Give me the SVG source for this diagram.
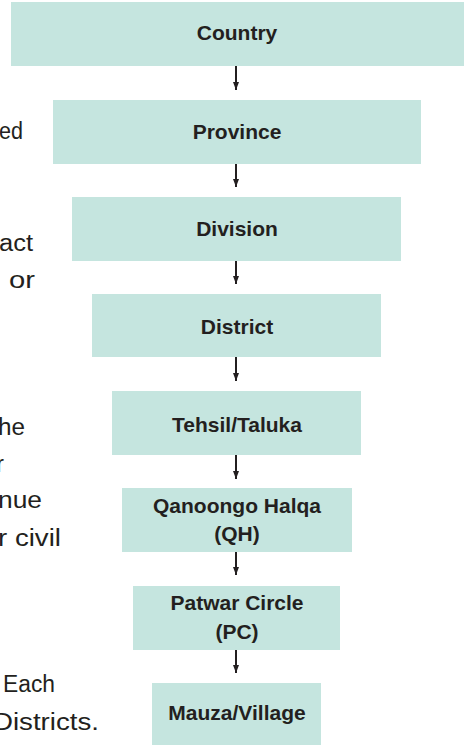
<svg xmlns="http://www.w3.org/2000/svg" width="464" height="745" viewBox="0 0 464 745">
  <style>
    .box { fill: #c5e5df; }
    .lbl { font-family: "Liberation Sans", Arial, sans-serif; font-weight: bold; font-size: 21px; fill: #231f20; text-anchor: middle; }
    .side { font-family: "Liberation Sans", Arial, sans-serif; font-size: 23px; fill: #231f20; }
    .conn { stroke: #231f20; stroke-width: 2; fill: none; }
  </style>
  <defs>
    <marker id="arrow" markerWidth="8" markerHeight="6" refX="8" refY="3" orient="auto" markerUnits="userSpaceOnUse" viewBox="0 0 8 6">
      <path d="M0,0 L8,3 L0,6 Z" fill="#231f20"/>
    </marker>
  </defs>
  <rect width="464" height="745" fill="#ffffff"/>

  <g id="side-text">
    <text class="side" x="-1" y="139" textLength="24" lengthAdjust="spacingAndGlyphs">ed</text>
    <text class="side" x="-1" y="251" textLength="34" lengthAdjust="spacingAndGlyphs">act</text>
    <text class="side" x="9" y="288" textLength="26" lengthAdjust="spacingAndGlyphs">or</text>
    <text class="side" x="-2" y="435" textLength="27" lengthAdjust="spacingAndGlyphs">he</text>
    <text class="side" x="4" y="472" text-anchor="end">r</text>
    <text class="side" x="-2" y="508" textLength="44" lengthAdjust="spacingAndGlyphs">nue</text>
    <text class="side" x="-2" y="546" textLength="63" lengthAdjust="spacingAndGlyphs">r civil</text>
    <text class="side" x="3" y="692" textLength="52" lengthAdjust="spacingAndGlyphs">Each</text>
    <text class="side" x="-7" y="730" textLength="106" lengthAdjust="spacingAndGlyphs">Districts.</text>
  </g>

  <g id="node-country">
    <rect class="box" x="11" y="2" width="453" height="64"/>
    <text class="lbl" x="237" y="40">Country</text>
  </g>
  <g id="node-province">
    <rect class="box" x="53" y="100" width="368" height="64"/>
    <text class="lbl" x="237" y="139">Province</text>
  </g>
  <g id="node-division">
    <rect class="box" x="72" y="197" width="329" height="64"/>
    <text class="lbl" x="237" y="236">Division</text>
  </g>
  <g id="node-district">
    <rect class="box" x="92" y="294" width="289" height="63"/>
    <text class="lbl" x="237" y="334">District</text>
  </g>
  <g id="node-tehsil">
    <rect class="box" x="112" y="391" width="249" height="64"/>
    <text class="lbl" x="237" y="432">Tehsil/Taluka</text>
  </g>
  <g id="node-qh">
    <rect class="box" x="122" y="488" width="230" height="64"/>
    <text class="lbl" x="237" y="513">Qanoongo Halqa</text>
    <text class="lbl" x="237" y="541">(QH)</text>
  </g>
  <g id="node-pc">
    <rect class="box" x="133" y="586" width="207" height="64"/>
    <text class="lbl" x="237" y="610">Patwar Circle</text>
    <text class="lbl" x="237" y="639">(PC)</text>
  </g>
  <g id="node-mauza">
    <rect class="box" x="152" y="683" width="169" height="62"/>
    <text class="lbl" x="237" y="720">Mauza/Village</text>
  </g>

  <g id="connectors">
    <line class="conn" x1="236" y1="66" x2="236" y2="90" marker-end="url(#arrow)"/>
    <line class="conn" x1="236" y1="164" x2="236" y2="187" marker-end="url(#arrow)"/>
    <line class="conn" x1="236" y1="261" x2="236" y2="284" marker-end="url(#arrow)"/>
    <line class="conn" x1="236" y1="357" x2="236" y2="381" marker-end="url(#arrow)"/>
    <line class="conn" x1="236" y1="455" x2="236" y2="479" marker-end="url(#arrow)"/>
    <line class="conn" x1="236" y1="552" x2="236" y2="575" marker-end="url(#arrow)"/>
    <line class="conn" x1="236" y1="650" x2="236" y2="673" marker-end="url(#arrow)"/>
  </g>
</svg>
